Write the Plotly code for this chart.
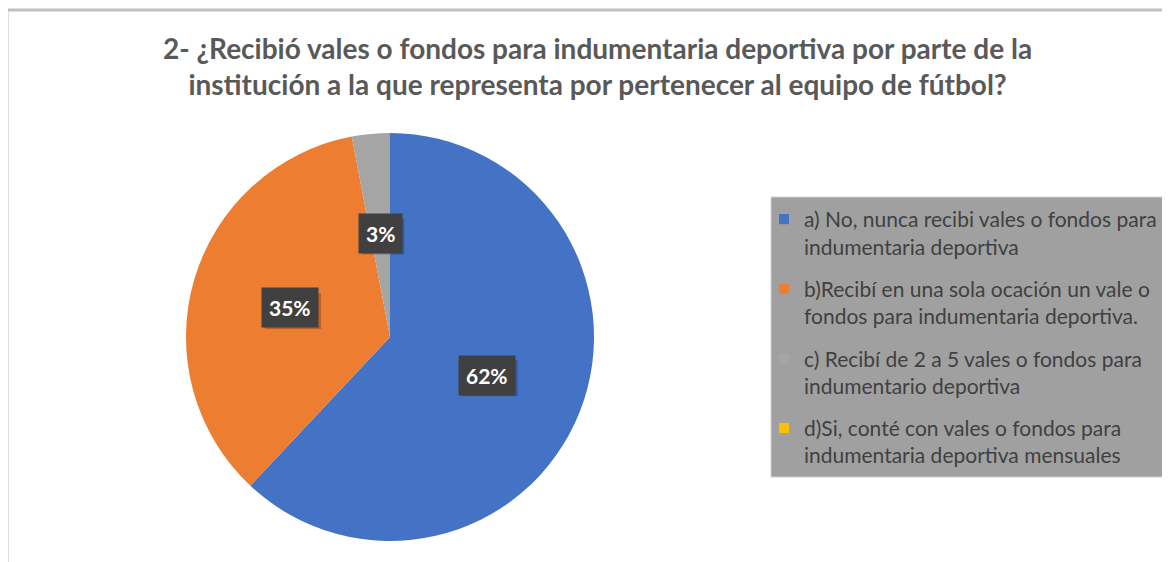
import math
import plotly.graph_objects as go

labels = [
    "a) No, nunca recibi vales o fondos para<br>indumentaria deportiva",
    "b)Recibí en una sola ocación un vale o<br>fondos para indumentaria deportiva.",
    "c) Recibí de 2 a 5 vales o fondos para<br>indumentario deportiva",
    "d)Si, conté con vales o fondos para<br>indumentaria deportiva mensuales",
]
values = [62, 35, 3, 0]
colors = ["#4472C4", "#ED7D31", "#A5A5A5", "#FFC000"]
title_text = ("2- ¿Recibió vales o fondos para indumentaria deportiva por parte de la<br>"
              "institución a la que representa por pertenecer al equipo de fútbol?")

# the page body has an 8px margin: figure is sized to fill the rest of the window
OFF = 8
W, H = 1170 - OFF, 562 - OFF


def PX(x):
    return (x - OFF) / W


def PY(y):
    return 1 - (y - OFF) / H


cx, cy, R = 390, 337, 204
FONT = "Lato, Open Sans, sans-serif"

fig = go.Figure()
fig.add_trace(go.Pie(
    labels=labels,
    values=values,
    marker=dict(colors=colors, line=dict(width=0)),
    sort=False,
    direction="clockwise",
    rotation=0,
    textinfo="none",
    hoverinfo="label+percent",
    domain=dict(x=[PX(cx - R), PX(cx + R)], y=[PY(cy + R), PY(cy - R)]),
    showlegend=False,
))

# legend entries (one per category, own group so a gap can separate them)
for i, (lab, col) in enumerate(zip(labels, colors)):
    fig.add_trace(go.Scatter(
        x=[None], y=[None], mode="markers", name=lab,
        marker=dict(symbol="square", size=10, color=col),
        legendgroup=f"g{i}", showlegend=True, hoverinfo="skip",
    ))

shapes = [
    dict(type="line", xref="paper", yref="paper", x0=PX(7), x1=1, y0=PY(10), y1=PY(10),
         line=dict(color="#BFBFBF", width=3)),
    dict(type="line", xref="paper", yref="paper", x0=PX(7), x1=PX(7), y0=0, y1=PY(10),
         line=dict(color="#BFBFBF", width=3)),
    dict(type="rect", xref="paper", yref="paper", x0=PX(771), x1=PX(1168),
         y0=PY(477), y1=PY(197), fillcolor="#A0A0A0", line=dict(width=1, color="#D0D0D0"),
         layer="below"),
]

# data labels in dark boxes, placed at the mid-angle of each slice
total = sum(values)
start = 0.0
annotations = []
for v in values:
    frac = v / total
    if v > 0:
        mid = (start + frac / 2) * 2 * math.pi
        r = 0.51 * R
        px = cx + r * math.sin(mid)
        py = cy - r * math.cos(mid)
        txt = f"{round(frac * 100)}%"
        bw, bh = 14 + 14 * len(txt), 36
        # soft drop shadow behind the label box
        shapes.append(dict(
            type="rect", xref="paper", yref="paper", layer="above",
            x0=PX(px - bw / 2 + 3), x1=PX(px + bw / 2 + 3),
            y0=PY(py + bh / 2 + 3), y1=PY(py - bh / 2 + 3),
            fillcolor="rgba(0,0,0,0.22)", line=dict(width=0),
        ))
        annotations.append(dict(
            x=PX(px), y=PY(py), xref="paper", yref="paper",
            xanchor="center", yanchor="middle",
            text=f"<b>{txt}</b>", showarrow=False,
            font=dict(family=FONT, size=21, color="white"),
            bgcolor="#404040", borderpad=7,
        ))
    start += frac

annotations.append(dict(
    x=PX(597), y=PY(66), xref="paper", yref="paper",
    xanchor="center", yanchor="middle",
    text=f"<b>{title_text}</b>", showarrow=False, align="center",
    font=dict(family=FONT, size=28, color="#595959"),
))

fig.update_layout(
    width=W, height=H,
    margin=dict(l=0, r=0, t=0, b=0),
    paper_bgcolor="white", plot_bgcolor="white",
    xaxis=dict(visible=False), yaxis=dict(visible=False),
    showlegend=True,
    legend=dict(
        x=PX(764), y=PY(199), xanchor="left", yanchor="top",
        bgcolor="rgba(0,0,0,0)", valign="top",
        font=dict(family=FONT, size=21, color="#404040"),
        itemwidth=30, tracegroupgap=12,
    ),
    annotations=annotations,
    shapes=shapes,
)

fig.write_html("out.html")
